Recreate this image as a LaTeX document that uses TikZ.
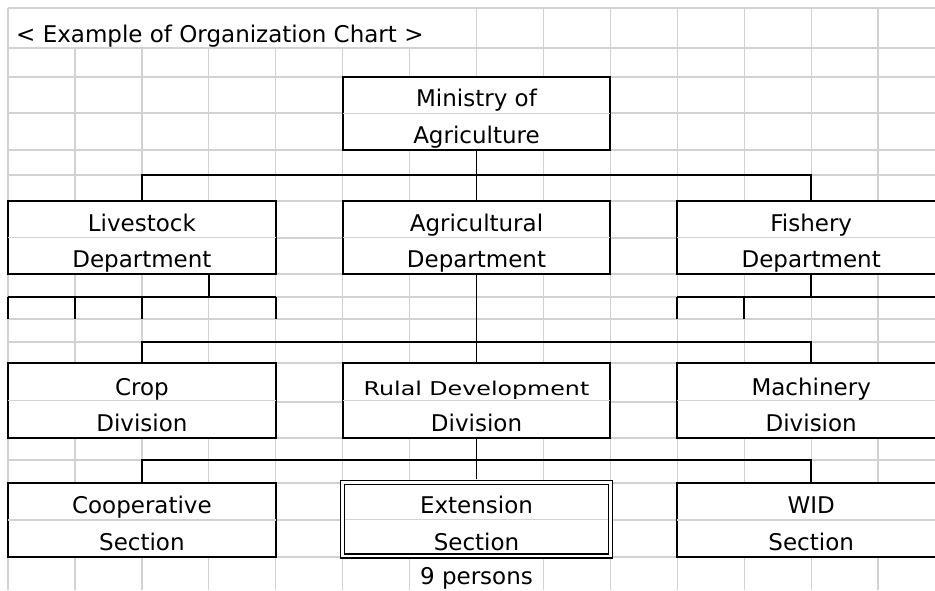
\documentclass[tikz,border=0pt]{standalone}
\usepackage{fontspec}
\setmainfont{DejaVu Sans}
\begin{document}
\begin{tikzpicture}[x=1pt,y=-1pt,
  gridline/.style={draw=gray!35, line width=1.3pt},
  unit/.style={draw=black, line width=1.8pt, fill=white, minimum width=267.7pt, inner sep=0pt},
  doubleunit/.style={unit, line width=1.4pt, double=white, double distance=2.6pt},
  conn/.style={draw=black, line width=1.8pt},
  lbl/.style={inner sep=0pt, anchor=base, font=\fontsize{23pt}{27pt}\selectfont},
  small/.style={lbl, font=\fontsize{19pt}{22pt}\selectfont}
]
\clip (0,0) rectangle (935,590);
\fill[white] (0,0) rectangle (935,590);

% spreadsheet grid
\foreach \i in {0,...,14}
  \draw[gridline] ({8+66.93*\i},8) -- ({8+66.93*\i},590);
\foreach \r in {8,48,77,113,150,175,201,238,274,297,319,342,363,402,438,460,483,520,557}
  \draw[gridline] (8,\r) -- (935,\r);

% title cell spills over the grid columns
\fill[white] (8.8,8.8) rectangle (475.8,47.3);
\node[lbl, anchor=base west] (title) at (16,42) {< Example of Organization Chart >};

% merged cell below the Extension section
\fill[white] (410.3,557.8) rectangle (542.7,590);

% units of the chart
\node[unit, minimum height=73pt] (min)   at (476.5,113.5) {};
\node[unit, minimum height=73pt] (live)  at (141.9,237.5) {};
\node[unit, minimum height=73pt] (agri)  at (476.5,237.5) {};
\node[unit, minimum height=73pt] (fish)  at (811.2,237.5) {};
\node[unit, minimum height=75pt] (crop)  at (141.9,400.5) {};
\node[unit, minimum height=75pt] (rural) at (476.5,400.5) {};
\node[unit, minimum height=75pt] (mach)  at (811.2,400.5) {};
\node[unit, minimum height=74pt] (coop)  at (141.9,520) {};
\node[doubleunit, minimum height=73.5pt, minimum width=268pt] (ext) at (476.5,519.3) {};
\node[unit, minimum height=74pt] (wid)   at (811.2,520) {};

% row lines running through the merged cells
\foreach \b in {min,live,agri,fish,crop,rural,mach,coop,wid}
  \draw[gridline, shorten <=1pt, shorten >=1pt] (\b.west) -- (\b.east);
\draw[gridline, shorten <=3.5pt, shorten >=3.5pt] (ext.west) -- (ext.east);

% Ministry to the departments
\coordinate (j1) at (476.5,175);
\draw[conn] (min.south) -- (agri.north);
\draw[conn] (j1) -| (live.north);
\draw[conn] (j1) -| (fish.north);

% Livestock Department branch
\coordinate (lsA) at (8,297);
\coordinate (lsB) at (75,297);
\coordinate (lsC) at (141.9,297);
\coordinate (lsD) at (208.8,297);
\coordinate (lsE) at (275.7,297);
\draw[conn] (live.south -| lsD) -- (lsD);
\draw[conn] (lsA) -- (lsE);
\foreach \c in {lsA,lsB,lsC,lsE}
  \draw[conn] (\c) -- ++(0,22);

% Fishery Department branch
\coordinate (fsA) at (677.3,297);
\coordinate (fsB) at (744.2,297);
\coordinate (fsC) at (811.2,297);
\coordinate (fsD) at (940,297);
\draw[conn] (fish.south) -- (fsC);
\draw[conn] (fsA) -- (fsD);
\foreach \c in {fsA,fsB}
  \draw[conn] (\c) -- ++(0,22);

% Agricultural Department to the divisions
\coordinate (j2) at (476.5,342);
\draw[conn] (agri.south) -- (rural.north);
\draw[conn] (j2) -| (crop.north);
\draw[conn] (j2) -| (mach.north);

% Rural Development Division to the sections
\coordinate (j3) at (476.5,460);
\draw[conn, shorten >=2.6pt] (rural.south) -- (ext.north);
\draw[conn] (j3) -| (coop.north);
\draw[conn] (j3) -| (wid.north);

% texts
\node[lbl] (minA)   at (476.5,106.5) {Ministry of};
\node[lbl] (minB)   at (476.5,143)   {Agriculture};
\node[lbl] (liveA)  at (141.9,231.5) {Livestock};
\node[lbl] (liveB)  at (141.9,267.5) {Department};
\node[lbl] (agriA)  at (476.5,231.5) {Agricultural};
\node[lbl] (agriB)  at (476.5,267.5) {Department};
\node[lbl] (fishA)  at (811.2,231.5) {Fishery};
\node[lbl] (fishB)  at (811.2,267.5) {Department};
\node[lbl] (cropA)  at (141.9,395.5) {Crop};
\node[lbl] (cropB)  at (141.9,431.5) {Division};
\node[small] (ruralA) at (476.5,395.5) {\scalebox{1.25}[1]{Rulal Development}};
\node[lbl] (ruralB) at (476.5,431.5) {Division};
\node[lbl] (machA)  at (811.2,395.5) {Machinery};
\node[lbl] (machB)  at (811.2,431.5) {Division};
\node[lbl] (coopA)  at (141.9,513.5) {Cooperative};
\node[lbl] (coopB)  at (141.9,550)   {Section};
\node[lbl] (extA)   at (476.5,513.5) {Extension};
\node[lbl] (extB)   at (476.5,550)   {Section};
\node[lbl] (widA)   at (811.2,513.5) {WID};
\node[lbl] (widB)   at (811.2,550)   {Section};
\node[lbl] (staff)  at (476.5,584)   {9 persons};
\end{tikzpicture}
\end{document}
